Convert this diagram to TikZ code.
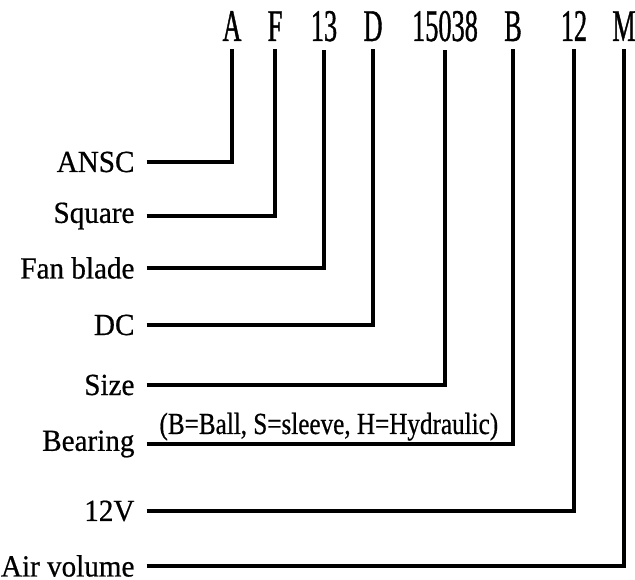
\documentclass[tikz,border=0pt]{standalone}
\usepackage{fontspec}
\setmainfont{Liberation Serif}[FakeStretch=0.95, FakeBold=0.6]
\newfontfamily\notefont{Liberation Serif}[FakeStretch=0.82, FakeBold=0.6]
\newfontfamily\codefont{Liberation Serif}[FakeStretch=0.58, FakeBold=0.8]
\usetikzlibrary{positioning}

\begin{document}
\begin{tikzpicture}[
  x=0.75pt, y=-0.75pt, line width=2.3pt,
  code/.style={font=\codefont\fontsize{34}{34}\selectfont, anchor=base, inner xsep=0pt, inner ysep=5pt},
  field/.style={font=\fontsize{23}{23}\selectfont, anchor=east, inner sep=0pt},
  lead/.style={draw, line width=2.3pt}]
\useasboundingbox (0,0) rectangle (635,580);
% ---- type code
\node[code] (cA) at (232,41) {A};
\node[code] (cF) at (275,41) {F};
\node[code] (c13) at (324,41) {13};
\node[code] (cD) at (373,41) {D};
\node[code] (c15038) at (445,41) {15038};
\node[code] (cB) at (513,41) {B};
\node[code] (c12) at (574,41) {12};
\node[code] (cM) at (624,41) {M};
% ---- field names
\node[field] (ansc) at (136,162) {ANSC};
\node[field] (square) at (136,216) {Square};
\node[field] (blade) at (136,268) {Fan blade};
\node[field] (dc) at (136,325) {DC};
\node[field] (size) at (136,385) {Size};
\node[field] (bearing) at (136,444) {Bearing};
\node[field] (volt) at (136,511) {12V};
\node[field] (air) at (136,566) {Air volume};
\node[field, font=\notefont\fontsize{23}{23}\selectfont, anchor=base west] (note) at (158,434) {(B=Ball, S=sleeve, H=Hydraulic)};
% ---- leaders
\foreach \f/\c in {ansc/cA, square/cF, blade/c13, dc/cD, size/c15038, bearing/cB, volt/c12, air/cM}
  \draw[lead] ([xshift=8pt]\f.east) -| (\c.south);
\end{tikzpicture}
\end{document}
